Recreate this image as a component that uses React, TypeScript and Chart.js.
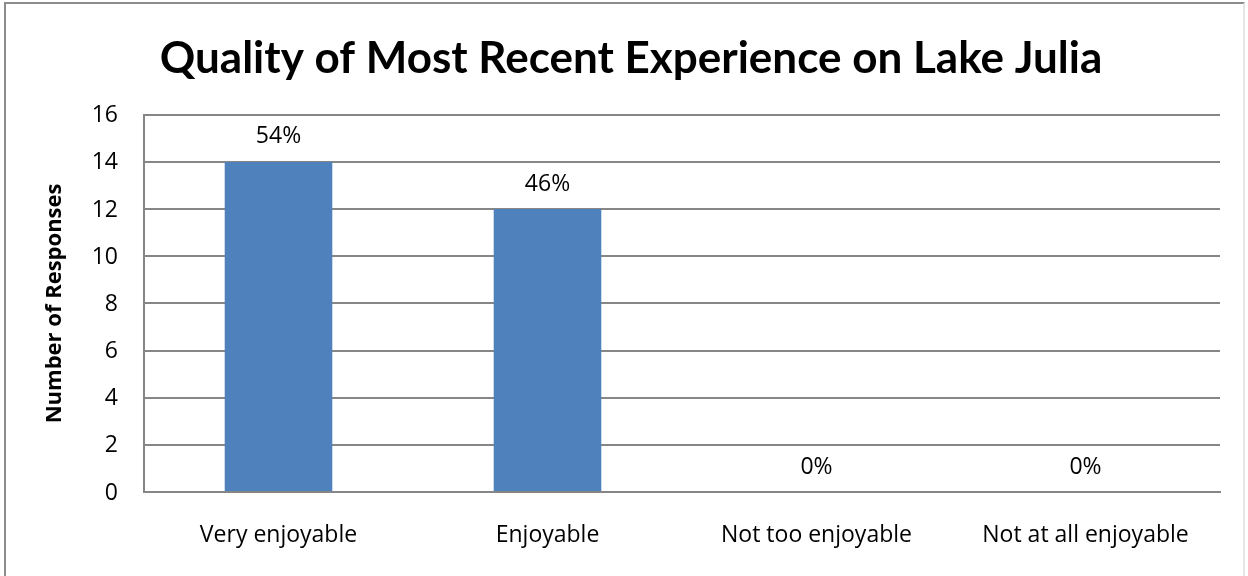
import React, { useEffect, useRef } from "react";
import { Chart, registerables } from "chart.js";

Chart.register(...registerables);

const categories = ["Very enjoyable", "Enjoyable", "Not too enjoyable", "Not at all enjoyable"];
const responses = [14, 12, 0, 0];
const percentLabels = ["54%", "46%", "0%", "0%"];
const titleText = "Quality of Most Recent Experience on Lake Julia";
const yAxisTitle = "Number of Responses";

const FONT = "'Open Sans', sans-serif";
const TITLE_FONT = "Lato, 'Open Sans', sans-serif";

const valueLabelPlugin = {
  id: "valueLabels",
  afterDatasetsDraw(chart: any) {
    const ctx = chart.ctx;
    const meta = chart.getDatasetMeta(0);
    ctx.save();
    ctx.font = `23px ${FONT}`;
    ctx.fillStyle = "#000";
    ctx.textAlign = "center";
    ctx.textBaseline = "middle";
    meta.data.forEach((bar: any, i: number) => {
      ctx.fillText(percentLabels[i], bar.x, bar.y - 25);
    });
    ctx.restore();
  },
};

export default function App() {
  const ref = useRef<HTMLCanvasElement>(null);
  useEffect(() => {
    if (!ref.current) return;
    const chart = new Chart(ref.current, {
      type: "bar",
      data: {
        labels: categories,
        datasets: [
          {
            data: responses,
            backgroundColor: "#4F81BD",
            borderWidth: 0,
            barPercentage: 0.4,
            categoryPercentage: 1,
          },
        ],
      },
      plugins: [valueLabelPlugin],
      options: {
        animation: false,
        responsive: false,
        maintainAspectRatio: false,
        layout: { padding: { left: 42, right: 28, top: 0, bottom: 0 } },
        plugins: {
          legend: { display: false },
          tooltip: { enabled: false },
          title: {
            display: true,
            text: titleText,
            color: "#000",
            font: { family: TITLE_FONT, size: 44, weight: "bold", lineHeight: 1.2 },
            padding: { top: 32, bottom: 30 },
          },
        },
        scales: {
          x: {
            grid: { display: false, drawTicks: false },
            border: { display: true, color: "#868686", width: 2 },
            ticks: { color: "#000", font: { family: FONT, size: 23 }, padding: 30, maxRotation: 0 },
            afterFit(scale: any) {
              scale.height = 84;
            },
          },
          y: {
            min: 0,
            max: 16,
            ticks: { stepSize: 2, color: "#000", font: { family: FONT, size: 23 }, padding: 26, labelOffset: 1 },
            grid: { color: "#868686", lineWidth: 2, drawTicks: false },
            border: { display: true, color: "#868686", width: 2 },
            title: {
              display: true,
              text: yAxisTitle,
              color: "#000",
              font: { family: FONT, size: 22, weight: "bold" },
              padding: { top: 0, bottom: 0 },
            },
            afterFit(scale: any) {
              scale.width = 102;
            },
          },
        },
      },
    });
    return () => chart.destroy();
  }, []);

  return (
    <div style={{ position: "fixed", left: 0, top: 0, width: 1248, height: 576, background: "#fff" }}>
      <div
        style={{
          position: "absolute",
          left: 4,
          top: 2,
          width: 1241,
          height: 580,
          borderLeft: "2px solid #8c8c8c",
          borderTop: "2px solid #8c8c8c",
          borderRight: "2px solid #e6e6e6",
          boxSizing: "border-box",
        }}
      />
      <canvas ref={ref} width={1248} height={576} style={{ position: "absolute", left: 0, top: 0 }} />
    </div>
  );
}
